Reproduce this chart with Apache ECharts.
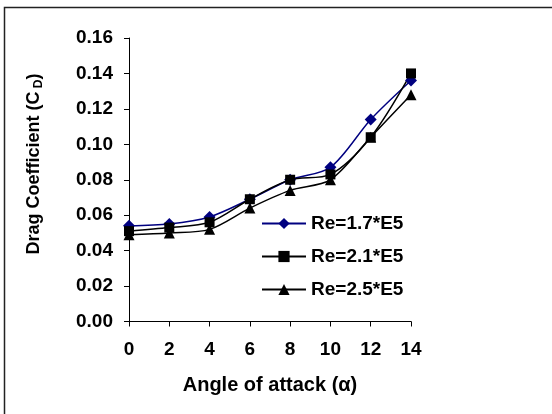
<!DOCTYPE html>
<html>
<head>
<meta charset="utf-8">
<script src="https://cdn.jsdelivr.net/npm/echarts@6/dist/echarts.min.js"></script>
<style>html,body{margin:0;padding:0;background:#fff}#c{width:552px;height:414px}</style>
</head>
<body>
<div id="c"></div>
<script>
const angles = [0, 2, 4, 6, 8, 10, 12, 14];
const seriesNames = ['Re=1.7*E5', 'Re=2.1*E5', 'Re=2.5*E5'];
const re17 = [0.054, 0.055, 0.059, 0.069, 0.080, 0.087, 0.114, 0.136];
const re21 = [0.051, 0.053, 0.056, 0.069, 0.080, 0.083, 0.104, 0.140];
const re25 = [0.049, 0.050, 0.052, 0.064, 0.074, 0.080, 0.104, 0.128];
const xTitle = 'Angle of attack (α)';
const yTitle = 'Drag Coefficient (C';
const yTitleSub = 'D';

const FONT = '"Liberation Sans", Arial, sans-serif';
const pairs = arr => angles.map((a, i) => [a, arr[i]]);

const chart = echarts.init(document.getElementById('c'), null, {renderer: 'canvas'});
const mk = (name, data, color, symbol, size) => ({
  name, type: 'line', data: pairs(data), smooth: 0.3,
  symbol, symbolSize: size,
  lineStyle: {color, width: 1.5},
  itemStyle: {color, borderWidth: 0},
  emphasis: {disabled: true},
  animation: false
});
chart.setOption({
  animation: false,
  backgroundColor: '#fff',
  textStyle: {fontFamily: FONT},
  grid: {left: 129, top: 38, width: 282, height: 283.5, containLabel: false},
  graphic: [
    {type: 'rect', shape: {x: 4.5, y: 7.5, width: 600, height: 500},
     style: {fill: 'none', stroke: '#222', lineWidth: 1.5}, silent: true},
    {type: 'text', x: 34, y: 164, rotation: Math.PI / 2,
     style: {
       text: '{a|' + yTitle + '}{s| ' + yTitleSub + '}{a|)}',
       align: 'center', verticalAlign: 'middle',
       rich: {
         a: {fontFamily: FONT, fontWeight: 'bold', fontSize: 18, fill: '#000', lineHeight: 22},
         s: {fontFamily: FONT, fontWeight: 'bold', fontSize: 12, fill: '#000', verticalAlign: 'bottom', lineHeight: 22, padding: [6, 0, 0, 0]}
       }
     }}
  ],
  legend: {
    orient: 'vertical', left: 261, top: 214, padding: 0,
    itemWidth: 44, itemHeight: 14, itemGap: 14,
    data: seriesNames,
    textStyle: {fontFamily: FONT, fontWeight: 'bold', fontSize: 19, color: '#000', lineHeight: 18}
  },
  xAxis: {
    type: 'value', min: 0, max: 14, interval: 2,
    name: xTitle, nameLocation: 'middle', nameGap: 54,
    nameTextStyle: {fontFamily: FONT, fontWeight: 'bold', fontSize: 20, color: '#000'},
    axisLine: {show: true, onZero: false, lineStyle: {color: '#000', width: 1}},
    axisTick: {show: true, inside: false, length: 5, lineStyle: {color: '#000'}},
    axisLabel: {fontFamily: FONT, fontWeight: 'bold', fontSize: 19, color: '#000', margin: 19},
    splitLine: {show: false}
  },
  yAxis: {
    type: 'value', min: 0, max: 0.16, interval: 0.02,
    axisLine: {show: true, lineStyle: {color: '#000', width: 1}},
    axisTick: {show: true, inside: false, length: 5, lineStyle: {color: '#000'}},
    axisLabel: {fontFamily: FONT, fontWeight: 'bold', fontSize: 19, color: '#000', margin: 16,
                formatter: v => v.toFixed(2)},
    splitLine: {show: false}
  },
  series: [
    mk(seriesNames[0], re17, '#000080', 'diamond', 12),
    mk(seriesNames[1], re21, '#000000', 'rect', 10),
    mk(seriesNames[2], re25, '#000000', 'triangle', 11)
  ]
});
</script>
</body>
</html>
